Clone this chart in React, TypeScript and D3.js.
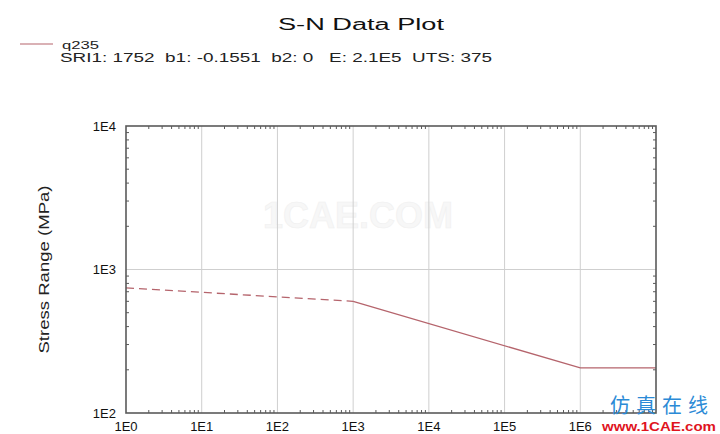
import React from "react";
import * as d3 from "d3";

// ---- data ----
const title = "S-N Data Plot";
const seriesName = "q235";
const seriesParams = "SRI1: 1752  b1: -0.1551  b2: 0   E: 2.1E5  UTS: 375";
const yAxisTitle = "Stress Range (MPa)";

// extrapolated (dashed) part of the S-N curve
const dashedCycles = [1, 1e3];
const dashedStress = [745, 600];
// solid part of the S-N curve
const solidCycles = [1e3, 1e6, 1e7];
const solidStress = [600, 206, 206];

const xTickValues = [1, 1e1, 1e2, 1e3, 1e4, 1e5, 1e6];
const xTickLabels = ["1E0", "1E1", "1E2", "1E3", "1E4", "1E5", "1E6"];
const yTickValues = [1e2, 1e3, 1e4];
const yTickLabels = ["1E2", "1E3", "1E4"];

const W = 720;
const H = 434;
const margin = { left: 126, right: 64, top: 126, bottom: 21 };

export default function App() {
  const x = d3
    .scaleLog()
    .domain([1, 1e7])
    .range([margin.left, W - margin.right]);
  const y = d3
    .scaleLog()
    .domain([1e2, 1e4])
    .range([H - margin.bottom, margin.top]);

  const [x0, x1] = x.range();
  const [y0, y1] = y.range(); // y0 bottom, y1 top

  const line = d3
    .line<[number, number]>()
    .x((d) => x(d[0]))
    .y((d) => y(d[1]));

  const dashedPts = dashedCycles.map((c, i) => [c, dashedStress[i]] as [number, number]);
  const solidPts = solidCycles.map((c, i) => [c, solidStress[i]] as [number, number]);

  // minor ticks 2..9 per decade
  const xMinor: number[] = [];
  for (let e = 0; e < 7; e++) for (let k = 2; k <= 9; k++) xMinor.push(k * Math.pow(10, e));
  const yMinor: number[] = [];
  for (let e = 2; e < 4; e++) for (let k = 2; k <= 9; k++) yMinor.push(k * Math.pow(10, e));

  const gridColor = "#cfcfcf";
  const axisColor = "#5a5a5a";
  const curveColor = "#b5646c";
  const font = "'Liberation Sans', Arial, sans-serif";
  const tl = 3;

  return (
    <svg
      width={W}
      height={H}
      style={{ position: "absolute", left: 0, top: 0, background: "#fff" }}
      fontFamily={font}
    >
      <rect x={0} y={0} width={W} height={H} fill="#fff" />

      {/* title */}
      <text x={278} y={30} fontSize={16} fill="#111" textLength={166} lengthAdjust="spacingAndGlyphs">
        {title}
      </text>

      {/* legend */}
      <line x1={20} x2={53} y1={44} y2={44} stroke={curveColor} strokeWidth={1.2} />
      <text x={62} y={48.5} fontSize={11.5} fill="#222" textLength={37} lengthAdjust="spacingAndGlyphs">
        {seriesName}
      </text>
      <text
        x={60}
        y={62}
        fontSize={12.5}
        fill="#222"
        textLength={432}
        lengthAdjust="spacingAndGlyphs"
        style={{ whiteSpace: "pre" }}
      >
        {seriesParams}
      </text>

      {/* faint centre watermark */}
      <text
        x={263}
        y={228}
        fontSize={36}
        fontWeight="bold"
        fill="#f7f7f7"
        stroke="#f0f0f0"
        strokeWidth={0.6}
        textLength={190}
        lengthAdjust="spacingAndGlyphs"
      >
        1CAE.COM
      </text>

      {/* grid */}
      {xTickValues.slice(1).map((v) => (
        <line key={"gx" + v} x1={x(v)} x2={x(v)} y1={y1} y2={y0} stroke={gridColor} strokeWidth={1} />
      ))}
      {yTickValues.slice(1, -1).map((v) => (
        <line key={"gy" + v} x1={x0} x2={x1} y1={y(v)} y2={y(v)} stroke={gridColor} strokeWidth={1} />
      ))}

      {/* minor ticks */}
      {xMinor.map((v) => (
        <g key={"mx" + v}>
          <line x1={x(v)} x2={x(v)} y1={y0} y2={y0 - tl} stroke={axisColor} strokeWidth={1} />
          <line x1={x(v)} x2={x(v)} y1={y1} y2={y1 + tl} stroke={axisColor} strokeWidth={1} />
        </g>
      ))}
      {yMinor.map((v) => (
        <g key={"my" + v}>
          <line x1={x0} x2={x0 + tl} y1={y(v)} y2={y(v)} stroke={axisColor} strokeWidth={1} />
          <line x1={x1} x2={x1 - tl} y1={y(v)} y2={y(v)} stroke={axisColor} strokeWidth={1} />
        </g>
      ))}

      {/* curve */}
      <path d={line(dashedPts) || ""} fill="none" stroke={curveColor} strokeWidth={1.3} strokeDasharray="8,5" />
      <path d={line(solidPts) || ""} fill="none" stroke={curveColor} strokeWidth={1.3} />

      {/* frame */}
      <rect x={x0} y={y1} width={x1 - x0} height={y0 - y1} fill="none" stroke={axisColor} strokeWidth={1.6} />

      {/* tick labels */}
      {xTickValues.map((v, i) => (
        <text key={"tx" + v} x={x(v)} y={431} fontSize={13} fill="#111" textAnchor="middle">
          {xTickLabels[i]}
        </text>
      ))}
      {yTickValues.map((v, i) => (
        <text key={"ty" + v} x={116} y={y(v) + 4.5} fontSize={13} fill="#111" textAnchor="end">
          {yTickLabels[i]}
        </text>
      ))}

      {/* y axis title */}
      <text
        transform={`translate(49,${(y0 + y1) / 2}) rotate(-90)`}
        fontSize={15}
        fill="#222"
        textAnchor="middle"
        textLength={168}
        lengthAdjust="spacingAndGlyphs"
      >
        {yAxisTitle}
      </text>

      {/* corner watermark */}
      <text
        x={610}
        y={413}
        fontSize={20}
        fill="#2b8ad6"
        fontFamily="'Noto Sans CJK SC', sans-serif"
        textLength={98}
        lengthAdjust="spacing"
      >
        仿真在线
      </text>
      <text
        x={602}
        y={430.5}
        fontSize={13}
        fontWeight="bold"
        fill="#e0141e"
        textLength={114}
        lengthAdjust="spacingAndGlyphs"
      >
        www.1CAE.com
      </text>
    </svg>
  );
}
